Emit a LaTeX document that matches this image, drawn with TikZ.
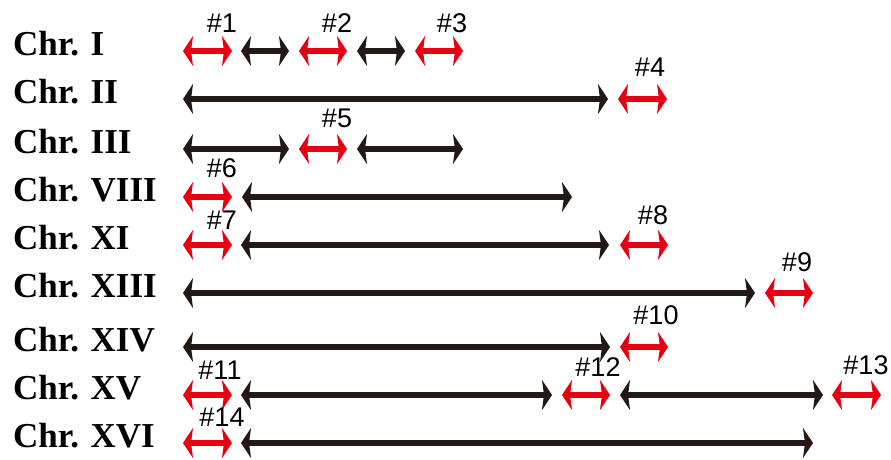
\documentclass[tikz,border=0pt]{standalone}
\usepackage{fontspec}
\setmainfont{Liberation Serif}
\newfontfamily\tagfont{Liberation Sans}
\usetikzlibrary{arrows.meta}
\definecolor{chrred}{HTML}{E60012}
\definecolor{chrdark}{HTML}{231815}
\tikzset{
  chrName/.style={anchor=base west, inner sep=0pt, font=\bfseries\fontsize{35}{35}\selectfont},
  regionTag/.style={anchor=base, inner sep=0pt, font=\tagfont\fontsize{27}{27}\selectfont},
  segTip/.tip={Stealth[length=10pt,width=30pt,inset=2pt]},
  segDark/.style={segTip-segTip, line width=6pt, draw=chrdark},
  segRed/.style={segTip-segTip, line width=6pt, draw=chrred}
}

\begin{document}
\begin{tikzpicture}[x=1pt,y=-1pt]
  \useasboundingbox (0,0) rectangle (891,459);
  % chromosome names
  \node[chrName] (chrI)    at (13,55)  {Chr. I};
  \node[chrName] (chrII)   at (13,103) {Chr. II};
  \node[chrName] (chrIII)  at (13,153) {Chr. III};
  \node[chrName] (chrVIII) at (13,201) {Chr. VIII};
  \node[chrName] (chrXI)   at (13,249) {Chr. XI};
  \node[chrName] (chrXIII) at (13,297) {Chr. XIII};
  \node[chrName] (chrXIV)  at (13,351) {Chr. XIV};
  \node[chrName] (chrXV)   at (13,399) {Chr. XV};
  \node[chrName] (chrXVI)  at (13,447) {Chr. XVI};

  % Chr. I
  \draw[segRed]  (183,51) -- (232,51);
  \draw[segDark] (241,51) -- (289,51);
  \draw[segRed]  (299,51) -- (347,51);
  \draw[segDark] (357,51) -- (405,51);
  \draw[segRed]  (415,51) -- (463,51);
  % Chr. II
  \draw[segDark] (183,99) -- (608,99);
  \draw[segRed]  (618,99) -- (667,99);
  % Chr. III
  \draw[segDark] (183,149) -- (289,149);
  \draw[segRed]  (299,149) -- (347,149);
  \draw[segDark] (357,149) -- (463,149);
  % Chr. VIII
  \draw[segRed]  (183,197) -- (232,197);
  \draw[segDark] (242,197) -- (572,197);
  % Chr. XI
  \draw[segRed]  (183,245) -- (232,245);
  \draw[segDark] (241,245) -- (609,245);
  \draw[segRed]  (620,245) -- (668,245);
  % Chr. XIII
  \draw[segDark] (183,293) -- (755,293);
  \draw[segRed]  (765,293) -- (813,293);
  % Chr. XIV
  \draw[segDark] (183,347) -- (610,347);
  \draw[segRed]  (620,347) -- (668,347);
  % Chr. XV
  \draw[segRed]  (183,395) -- (232,395);
  \draw[segDark] (241,395) -- (552,395);
  \draw[segRed]  (562,395) -- (610,395);
  \draw[segDark] (620,395) -- (823,395);
  \draw[segRed]  (832,395) -- (881,395);
  % Chr. XVI
  \draw[segRed]  (183,443) -- (232,443);
  \draw[segDark] (241,443) -- (813,443);

  % region numbers
  \node[regionTag] (t1)  at (222,32)  {\#1};
  \node[regionTag] (t2)  at (337,32)  {\#2};
  \node[regionTag] (t3)  at (452,32)  {\#3};
  \node[regionTag] (t4)  at (650,76)  {\#4};
  \node[regionTag] (t5)  at (337,127) {\#5};
  \node[regionTag] (t6)  at (222,177) {\#6};
  \node[regionTag] (t7)  at (222,229) {\#7};
  \node[regionTag] (t8)  at (653,224) {\#8};
  \node[regionTag] (t9)  at (797,271) {\#9};
  \node[regionTag] (t10) at (656,324) {\#10};
  \node[regionTag] (t11) at (220,379) {\#11};
  \node[regionTag] (t12) at (598,376) {\#12};
  \node[regionTag] (t13) at (866,374) {\#13};
  \node[regionTag] (t14) at (222,426) {\#14};
\end{tikzpicture}
\end{document}
